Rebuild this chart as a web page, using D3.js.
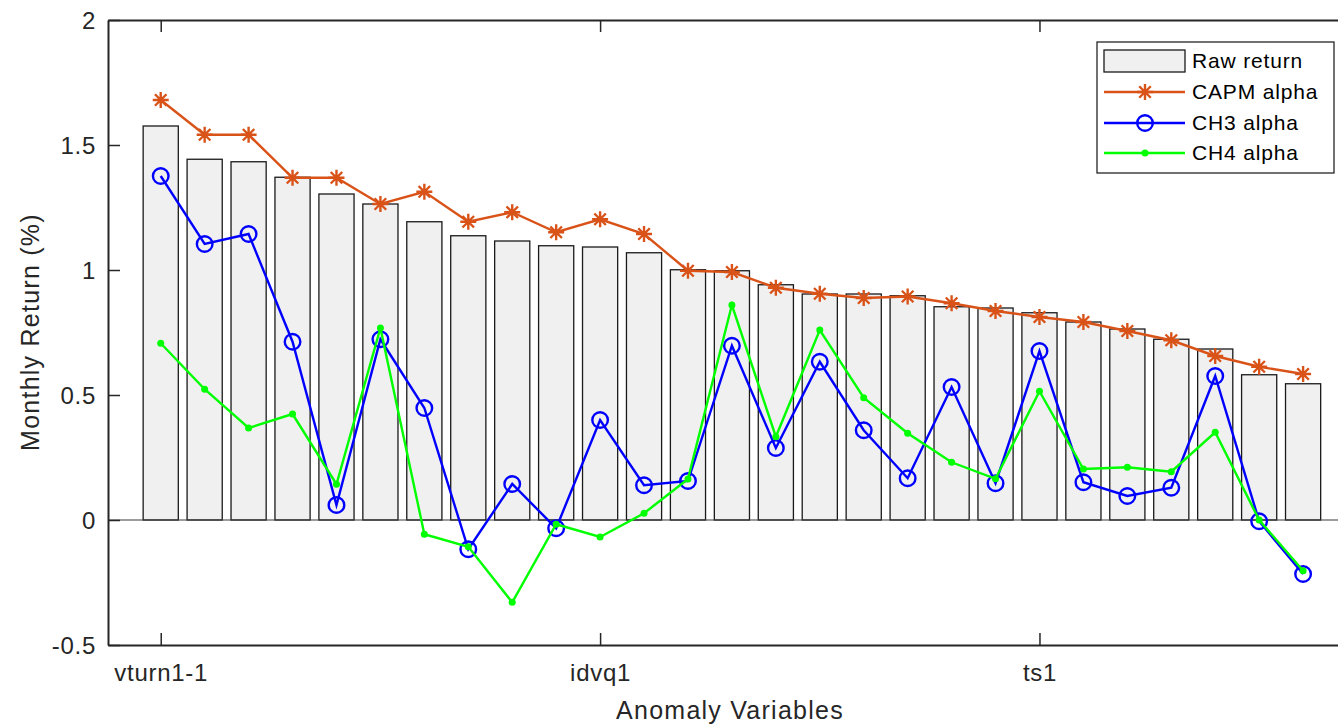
<!DOCTYPE html>
<html>
<head>
<meta charset="utf-8">
<script src="https://cdn.jsdelivr.net/npm/d3@7"></script>
<style>
  body { margin: 0; background: #fff; }
  svg { display: block; font-family: "Liberation Sans", Arial, sans-serif; }
</style>
</head>
<body>
<svg id="chart" width="1338" height="725"></svg>
<script>
// --- DATA ---
const rawReturn = [1.576, 1.443, 1.433, 1.371, 1.304, 1.264, 1.193, 1.137, 1.116, 1.097, 1.092, 1.069, 1.001, 0.997,
    0.941, 0.904, 0.904, 0.897, 0.853, 0.848, 0.829, 0.792, 0.764, 0.723, 0.684, 0.581, 0.545];
const capmAlpha = [1.68, 1.541, 1.541, 1.369, 1.369, 1.264, 1.313, 1.193, 1.231, 1.151, 1.203, 1.144, 0.997, 0.992,
    0.929, 0.905, 0.888, 0.894, 0.867, 0.836, 0.812, 0.792, 0.756, 0.719, 0.656, 0.613, 0.584];
const ch3Alpha = [1.376, 1.104, 1.144, 0.713, 0.06, 0.723, 0.448, -0.117, 0.144, -0.033, 0.40, 0.139, 0.156, 0.697,
    0.288, 0.633, 0.359, 0.167, 0.532, 0.147, 0.676, 0.151, 0.096, 0.129, 0.576, -0.005, -0.216];
const ch4Alpha = [0.707, 0.523, 0.368, 0.424, 0.143, 0.768, -0.057, -0.107, -0.329, -0.017, -0.068, 0.027, 0.164, 0.86,
    0.333, 0.76, 0.489, 0.347, 0.231, 0.165, 0.515, 0.204, 0.211, 0.193, 0.351, 0.0, -0.203];

const xTickIndex = [0, 10, 20];
const xTickLabels = ["vturn1-1", "idvq1", "ts1"];
const yTicks = [-0.5, 0, 0.5, 1, 1.5, 2];
const legendLabels = ["Raw return", "CAPM alpha", "CH3 alpha", "CH4 alpha"];

// --- SETUP ---
const axisColor = "#262626";
const plot = { left: 108, right: 1340, top: 20, bottom: 645 };
const svg = d3.select("#chart");

const xScale = d3.scaleLinear().domain([-1.2, 26.84]).range([plot.left, plot.right]);
const yScale = d3.scaleLinear().domain([-0.5, 2]).range([plot.bottom, plot.top]);
const step = xScale(1) - xScale(0);

// --- BARS ---
svg.append("g").selectAll("rect")
    .data(rawReturn)
    .join("rect")
    .attr("x", (d, i) => xScale(i) - step * 0.4)
    .attr("width", step * 0.8)
    .attr("y", d => yScale(Math.max(d, 0)))
    .attr("height", d => Math.abs(yScale(0) - yScale(d)))
    .attr("fill", "#f0f0f0")
    .attr("stroke", "#1a1a1a")
    .attr("stroke-width", 1.3);

// baseline
svg.append("line")
    .attr("x1", plot.left).attr("x2", plot.right)
    .attr("y1", yScale(0)).attr("y2", yScale(0))
    .attr("stroke", "#3a3a3a")
    .attr("stroke-width", 1.2);

// --- LINES ---
const line = d3.line().x((d, i) => xScale(i)).y(d => yScale(d));

function starPath(s) {
    const k = s * 0.72;
    return `M${-s},0L${s},0M0,${-s}L0,${s}M${-k},${-k}L${k},${k}M${-k},${k}L${k},${-k}`;
}

// CAPM
svg.append("path").datum(capmAlpha)
    .attr("d", line).attr("fill", "none")
    .attr("stroke", "#d95319").attr("stroke-width", 2.4);
svg.append("g").selectAll("path")
    .data(capmAlpha)
    .join("path")
    .attr("transform", (d, i) => `translate(${xScale(i)},${yScale(d)})`)
    .attr("d", starPath(8))
    .attr("stroke", "#d95319").attr("stroke-width", 2.4);

// CH3
svg.append("path").datum(ch3Alpha)
    .attr("d", line).attr("fill", "none")
    .attr("stroke", "#0000ff").attr("stroke-width", 2.4);
svg.append("g").selectAll("circle")
    .data(ch3Alpha)
    .join("circle")
    .attr("cx", (d, i) => xScale(i))
    .attr("cy", d => yScale(d))
    .attr("r", 7.8)
    .attr("fill", "none")
    .attr("stroke", "#0000ff").attr("stroke-width", 2.4);

// CH4
svg.append("path").datum(ch4Alpha)
    .attr("d", line).attr("fill", "none")
    .attr("stroke", "#00ff00").attr("stroke-width", 2.4);
svg.append("g").selectAll("circle")
    .data(ch4Alpha)
    .join("circle")
    .attr("cx", (d, i) => xScale(i))
    .attr("cy", d => yScale(d))
    .attr("r", 3.5)
    .attr("fill", "#00ff00");

// --- AXES ---
function styleAxis(g, fontSize) {
    g.select(".domain").attr("stroke", axisColor).attr("stroke-width", 2);
    g.selectAll(".tick line").attr("stroke", axisColor).attr("stroke-width", 1.5);
    g.selectAll(".tick text")
        .attr("fill", axisColor)
        .attr("font-family", "'Liberation Sans', Arial, sans-serif")
        .attr("font-size", fontSize)
        .attr("letter-spacing", "0.03em");
}

const yAxisGroup = svg.append("g")
    .attr("transform", `translate(${plot.left},0)`)
    .call(d3.axisLeft(yScale).tickValues(yTicks).tickFormat(d => String(d))
        .tickSizeInner(-12).tickSizeOuter(0).tickPadding(12));
styleAxis(yAxisGroup, 24);
yAxisGroup.selectAll(".tick text").attr("dy", "0.36em");

const xAxisGroup = svg.append("g")
    .attr("transform", `translate(0,${plot.bottom})`)
    .call(d3.axisBottom(xScale).tickValues(xTickIndex).tickFormat((d, i) => xTickLabels[i])
        .tickSizeInner(-12).tickSizeOuter(0).tickPadding(19));
styleAxis(xAxisGroup, 24);

const topAxisGroup = svg.append("g")
    .attr("transform", `translate(0,${plot.top})`)
    .call(d3.axisTop(xScale).tickValues(xTickIndex).tickFormat("")
        .tickSizeInner(-12).tickSizeOuter(0));
styleAxis(topAxisGroup, 24);

// Axis labels
svg.append("text")
    .attr("x", 730).attr("y", 719)
    .attr("text-anchor", "middle")
    .attr("font-size", 25)
    .attr("letter-spacing", "0.05em")
    .attr("fill", axisColor)
    .text("Anomaly Variables");

svg.append("text")
    .attr("transform", "translate(39,332) rotate(-90)")
    .attr("text-anchor", "middle")
    .attr("font-size", 25)
    .attr("letter-spacing", "0.05em")
    .attr("fill", axisColor)
    .text("Monthly Return (%)");

// --- LEGEND ---
const legend = svg.append("g");
legend.append("rect")
    .attr("x", 1097).attr("y", 42)
    .attr("width", 237).attr("height", 131)
    .attr("fill", "#fff")
    .attr("stroke", axisColor).attr("stroke-width", 1.3);

const rowY = [61, 92, 123, 153];
legend.append("rect")
    .attr("x", 1104).attr("y", 50)
    .attr("width", 81).attr("height", 22)
    .attr("fill", "#f0f0f0")
    .attr("stroke", "#1a1a1a").attr("stroke-width", 1.3);

const legendColors = ["#d95319", "#0000ff", "#00ff00"];
legendColors.forEach((c, k) => {
    const y = rowY[k + 1];
    legend.append("line")
        .attr("x1", 1104).attr("x2", 1185)
        .attr("y1", y).attr("y2", y)
        .attr("stroke", c).attr("stroke-width", 2.4);
});
legend.append("path")
    .attr("transform", `translate(1145,${rowY[1]})`)
    .attr("d", starPath(8))
    .attr("stroke", legendColors[0]).attr("stroke-width", 2.4);
legend.append("circle")
    .attr("cx", 1145).attr("cy", rowY[2]).attr("r", 7.8)
    .attr("fill", "none")
    .attr("stroke", legendColors[1]).attr("stroke-width", 2.4);
legend.append("circle")
    .attr("cx", 1145).attr("cy", rowY[3]).attr("r", 3.5)
    .attr("fill", legendColors[2]);

legend.selectAll(".legend-label")
    .data(legendLabels)
    .join("text")
    .attr("class", "legend-label")
    .attr("x", 1192)
    .attr("y", (d, i) => rowY[i] + 7)
    .attr("font-size", 21)
    .attr("letter-spacing", "0.04em")
    .attr("fill", "#000")
    .text(d => d);
</script>
</body>
</html>
